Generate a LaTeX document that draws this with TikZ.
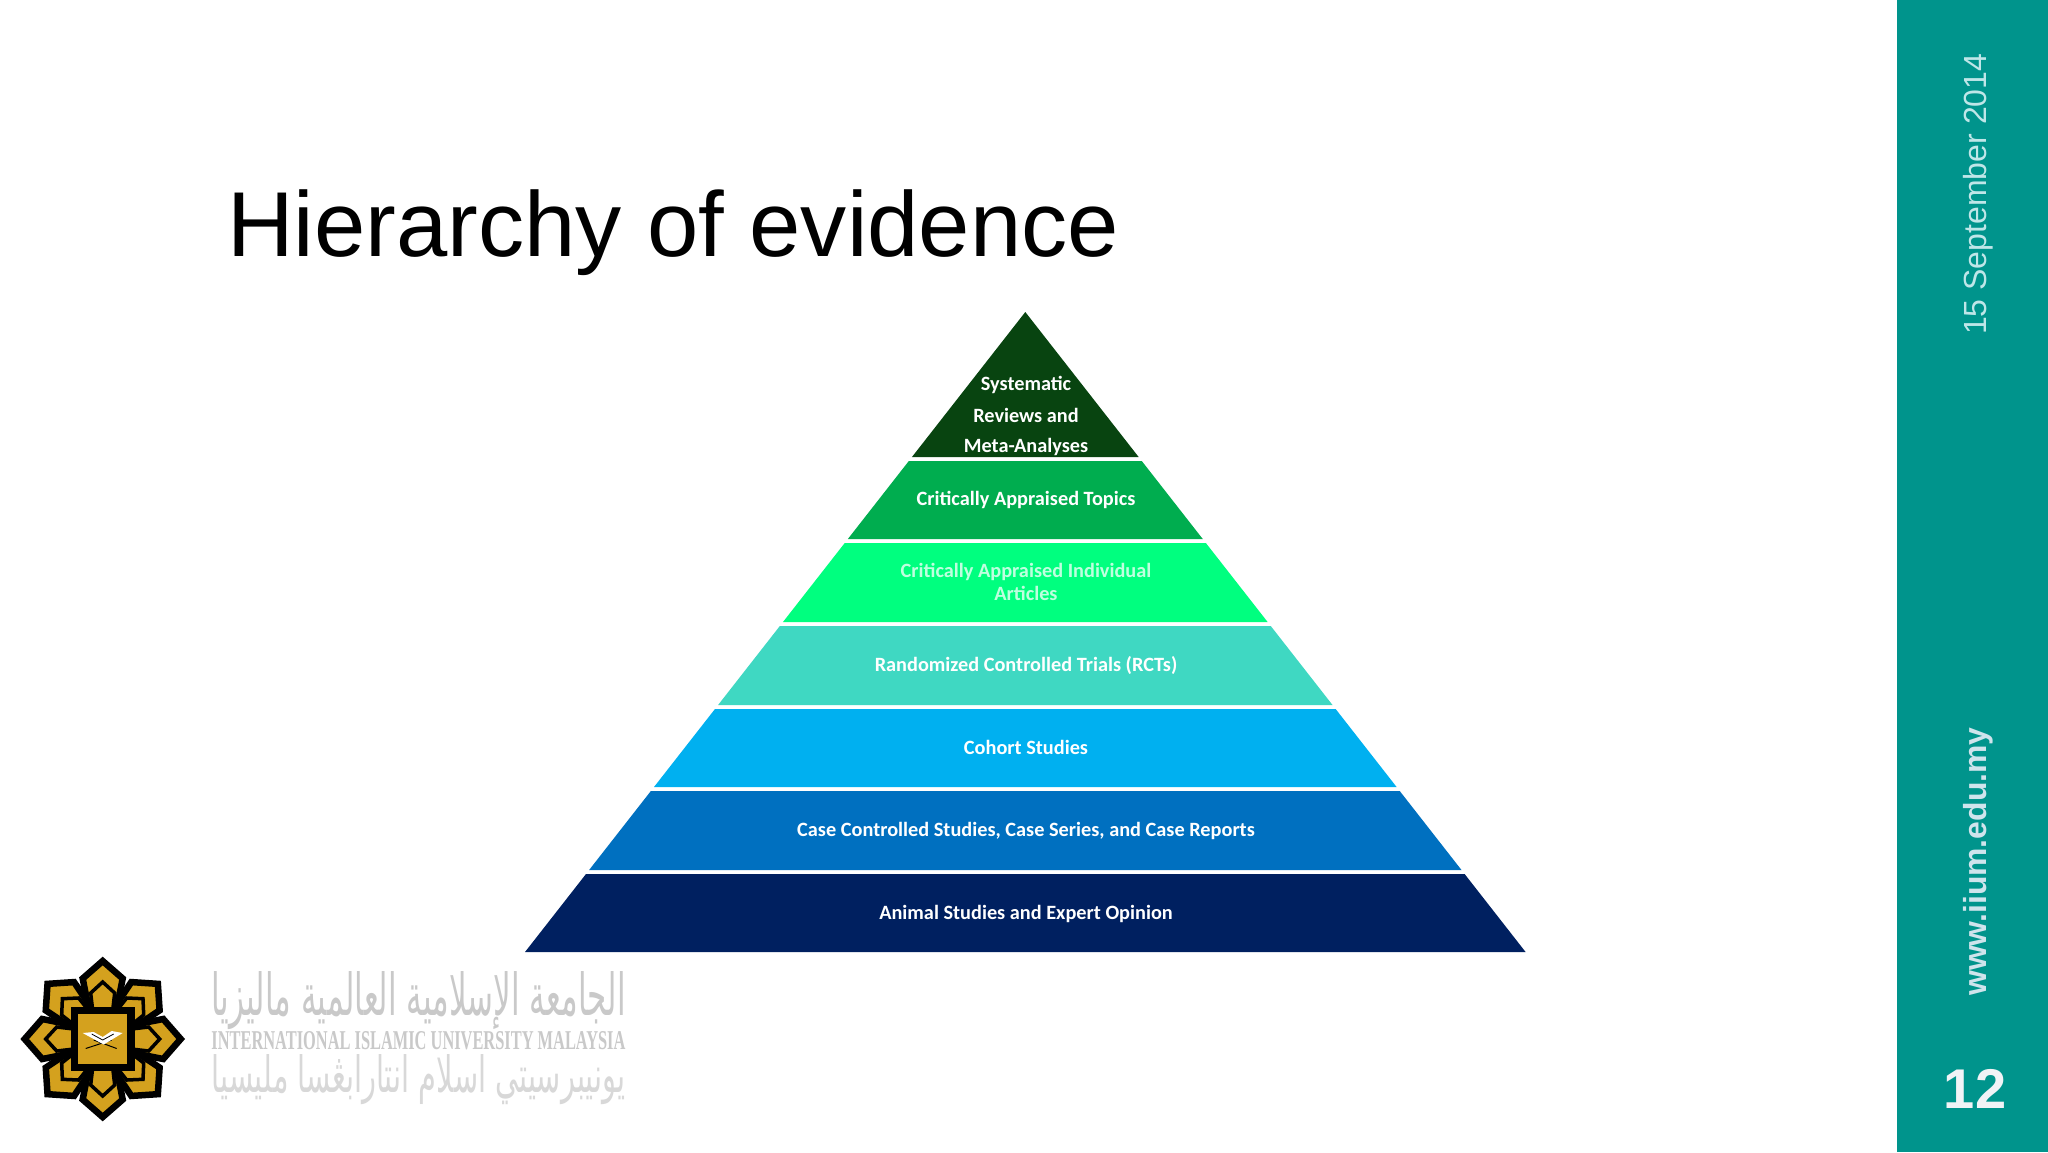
\documentclass[tikz,border=0pt]{standalone}
\usepackage{fontspec}
\setmainfont{Liberation Sans}
\newfontfamily\pyrfont{Carlito}
\newfontfamily\arabicfont[Script=Arabic]{DejaVu Sans}
\newfontfamily\seriffont{Liberation Serif}
\TeXXeTstate=1
\definecolor{teal1}{HTML}{00948C}
\definecolor{dateblue}{HTML}{BFE6E8}
\definecolor{urlblue}{HTML}{CFE4EC}
\definecolor{numwhite}{HTML}{F1F3F6}
\definecolor{gold1}{HTML}{D4A11E}
\definecolor{wordgray}{HTML}{C9C9C9}
\definecolor{wordgraylight}{HTML}{D8D8D8}
\definecolor{b1}{HTML}{084410}
\definecolor{b2}{HTML}{00AD4F}
\definecolor{b3}{HTML}{00FF7F}
\definecolor{b4}{HTML}{3FD8C2}
\definecolor{b5}{HTML}{00B0F0}
\definecolor{b6}{HTML}{0070C0}
\definecolor{b7}{HTML}{002060}
\tikzset{
  pyrlabel/.style={font=\pyrfont\bfseries\fontsize{20.3}{22}\selectfont,text=white,inner sep=0pt,anchor=center,align=center},
  sidelabel/.style={rotate=90,anchor=base west,inner sep=0pt},
  wordmark/.style={inner sep=0pt,anchor=center,text=wordgray},
  outerpetal/.style={fill=gold1,draw=black,line width=6.5pt,line join=miter},
  innerpetal/.style={fill=gold1,draw=black,line width=3.5pt,line join=miter},
}
\begin{document}
\begin{tikzpicture}[x=1pt,y=-1pt]
\useasboundingbox (0,0) rectangle (2048,1152);
\fill[white] (0,0) rectangle (2048,1152);
% sidebar
\fill[teal1] (1897,0) rectangle (2048,1152);
\node[sidelabel,text=dateblue,font=\fontsize{32}{34}\selectfont] (date) at (1986,335) {15 September 2014};
\node[sidelabel,text=urlblue,font=\bfseries\fontsize{31.9}{34}\selectfont] (url) at (1986,996) {www.iium.edu.my};
\node[inner sep=0pt,anchor=base,text=numwhite,font=\bfseries\fontsize{56}{60}\selectfont] (num) at (1975,1108) {12};
% title
\node[inner sep=0pt,anchor=base west,font=\fontsize{92.2}{96}\selectfont] (title) at (227,256) {Hierarchy of evidence};
% pyramid
\foreach \ya/\yb/\col in {312/457/b1,461/539/b2,543/622/b3,626/705/b4,709/787/b5,791/870/b6,874/952/b7}{
  \fill[\col] ({1025.3-0.7817*(\ya-312)},\ya) -- ({1025.3+0.7817*(\ya-312)},\ya)
    -- ({1025.3+0.7817*(\yb-312)},\yb) -- ({1025.3-0.7817*(\yb-312)},\yb) -- cycle;
}
\node[pyrlabel] (sys1) at (1026,384.5) {Systematic};
\node[pyrlabel] (sys2) at (1026,415) {Reviews and};
\node[pyrlabel] (sys3) at (1026,446.5) {Meta-Analyses};
\node[pyrlabel] (cat) at (1026,500) {Critically Appraised Topics};
\node[pyrlabel,text=white!75!b3] (cai1) at (1026,571.5) {Critically Appraised Individual};
\node[pyrlabel,text=white!75!b3] (cai2) at (1026,593) {Articles};
\node[pyrlabel] (rct) at (1026,665.5) {Randomized Controlled Trials (RCTs)};
\node[pyrlabel] (coh) at (1026,747.5) {Cohort Studies};
\node[pyrlabel] (cas) at (1026,830.5) {Case Controlled Studies, Case Series, and Case Reports};
\node[pyrlabel] (ani) at (1026,913.5) {Animal Studies and Expert Opinion};
% logo
\begin{scope}[shift={(102.7,1039)}]
  \foreach \a in {45,135,225,315,0,90,180,270}{
    \draw[outerpetal,rotate=\a] (20,-12) -- (60.5,-20) -- (78,0) -- (60.5,20) -- (20,12) -- cycle;
  }
  \foreach \a in {45,135,225,315,0,90,180,270}{
    \draw[innerpetal,rotate=\a] (20,-9) -- (46,-12) -- (57,0) -- (46,12) -- (20,9) -- cycle;
  }
  \fill[black] (-32,-32) rectangle (32,32);
  \fill[gold1] (-24.7,-24.7) rectangle (24.7,24.7);
  \draw[black,line width=1pt] (-17,9.5) -- (9,1);
  \draw[black,line width=1pt] (14,9.5) -- (-9,1);
  \fill[white] (-20,-6) -- (-9,-7) -- (0,-2) -- (9,-8) -- (20,-6) -- (1,5.5) -- cycle;
  \draw[black,line width=0.8pt] (-11,-5) -- (0,1) -- (11,-5);
\end{scope}
% wordmark
\node[wordmark] (wm1) at (418.5,1001) {\resizebox{414pt}{!}{\resizebox{414pt}{44pt}{\arabicfont\beginR الجامعة الإسلامية العالمية ماليزيا\endR}}};
\node[wordmark] (wm2) at (418.5,1040.5) {\resizebox{414pt}{18pt}{\seriffont\bfseries INTERNATIONAL ISLAMIC UNIVERSITY MALAYSIA}};
\node[wordmark,text=wordgraylight] (wm3) at (418.5,1080) {\resizebox{414pt}{38pt}{\arabicfont\beginR يونيبرسيتي اسلام انتارابڠسا مليسيا\endR}};
\end{tikzpicture}
\end{document}
